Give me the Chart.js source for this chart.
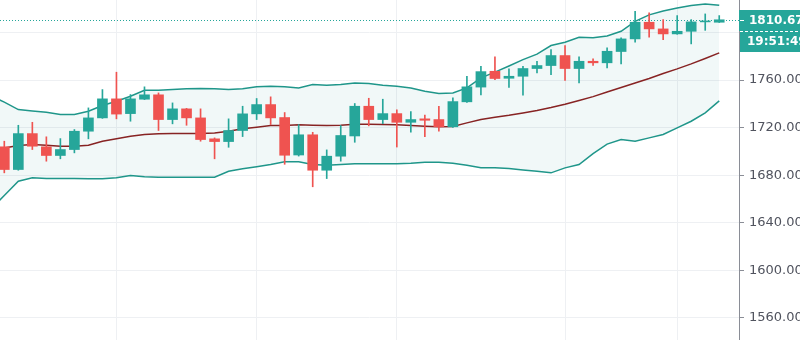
<!DOCTYPE html>
<html>
<head>
<meta charset="utf-8">
<script src="https://cdn.jsdelivr.net/npm/chart.js@4/dist/chart.umd.min.js"></script>
<style>
  html, body { margin: 0; padding: 0; background: #fff; }
  #wrap { width: 800px; height: 340px; }
</style>
</head>
<body>
<div id="wrap"><canvas id="chart" width="800" height="340"></canvas></div>
<script>
// OHLC candles, one per bar, oldest first
const opens  = [1703.9, 1684.8, 1715.0, 1703.9, 1696.6, 1701.6, 1717.0, 1728.2, 1744.2, 1731.8,
                1743.9, 1747.6, 1726.8, 1735.8, 1728.2, 1710.6, 1708.3, 1717.6, 1731.6, 1739.4,
                1728.5, 1697.0, 1714.0, 1684.2, 1696.0, 1713.0, 1738.0, 1726.8, 1731.8, 1724.5,
                1727.4, 1726.8, 1720.7, 1741.7, 1754.1, 1767.4, 1761.5, 1763.2, 1769.7, 1772.2,
                1780.6, 1769.7, 1775.8, 1774.5, 1784.0, 1794.6, 1808.6, 1803.0, 1798.8, 1801.0,
                1808.9, 1808.6];
const highs  = [1708.6, 1722.0, 1724.5, 1712.3, 1710.8, 1718.4, 1736.6, 1752.0, 1766.6, 1747.8,
                1754.3, 1749.2, 1740.8, 1736.2, 1735.8, 1711.4, 1727.4, 1738.0, 1744.5, 1745.9,
                1732.7, 1722.6, 1716.1, 1701.3, 1721.8, 1740.3, 1744.7, 1743.9, 1735.0, 1733.5,
                1730.6, 1738.0, 1745.0, 1763.2, 1771.6, 1779.5, 1769.4, 1771.6, 1775.8, 1785.6,
                1789.0, 1779.5, 1777.8, 1787.1, 1795.5, 1817.8, 1816.5, 1810.8, 1814.2, 1810.8,
                1815.6, 1814.2];
const lows   = [1682.0, 1684.2, 1701.6, 1691.8, 1693.8, 1698.8, 1710.6, 1727.8, 1727.4, 1725.4,
                1743.6, 1717.6, 1723.2, 1722.0, 1708.6, 1693.8, 1703.5, 1712.5, 1726.8, 1722.6,
                1689.2, 1696.1, 1670.3, 1677.2, 1691.8, 1707.7, 1721.5, 1723.4, 1703.7, 1716.1,
                1712.5, 1717.0, 1720.2, 1741.2, 1747.6, 1760.4, 1753.9, 1747.2, 1766.1, 1764.6,
                1759.8, 1757.6, 1772.4, 1770.3, 1773.6, 1791.8, 1796.0, 1794.0, 1798.5, 1790.4,
                1801.8, 1808.4];
const closes = [1684.8, 1715.0, 1704.4, 1696.6, 1701.6, 1717.0, 1728.2, 1744.2, 1731.4, 1744.2,
                1747.6, 1726.8, 1735.8, 1728.2, 1710.0, 1708.3, 1717.6, 1731.6, 1739.4, 1728.2,
                1696.8, 1714.0, 1684.2, 1696.0, 1713.4, 1738.0, 1726.8, 1731.8, 1724.5, 1726.8,
                1726.2, 1720.7, 1741.9, 1754.3, 1767.1, 1761.3, 1763.2, 1769.7, 1772.2, 1780.6,
                1769.7, 1775.8, 1774.5, 1784.2, 1794.6, 1808.6, 1803.0, 1798.8, 1801.0, 1808.9,
                1809.7, 1810.67];

// Bollinger bands, starting one bar before the first candle
const bandStart = -1;
const upperBand = [1747.0, 1741.5, 1735.2, 1734.0, 1732.9, 1731.0, 1731.0, 1733.8, 1738.6, 1742.2,
                   1746.4, 1751.4, 1751.4, 1752.0, 1752.6, 1752.9, 1752.6, 1752.0, 1752.6, 1754.3,
                   1754.8, 1754.3, 1753.4, 1756.2, 1755.6, 1756.2, 1757.6, 1757.1, 1755.6, 1754.8,
                   1753.4, 1750.6, 1748.7, 1749.2, 1753.4, 1761.8, 1766.7, 1771.8, 1777.2, 1781.8,
                   1789.0, 1791.8, 1796.0, 1795.5, 1797.0, 1801.0, 1809.4, 1814.8, 1818.1, 1820.6,
                   1822.6, 1824.0, 1822.9];
const basisBand = [1701.2, 1702.9, 1705.0, 1705.8, 1705.2, 1704.4, 1704.4, 1705.2, 1708.6, 1710.6,
                   1712.8, 1714.2, 1714.8, 1715.0, 1715.0, 1715.0, 1715.6, 1717.0, 1719.0, 1720.3,
                   1721.8, 1721.8, 1722.4, 1722.0, 1721.8, 1722.0, 1722.9, 1722.9, 1722.6, 1722.4,
                   1721.8, 1721.2, 1720.7, 1720.9, 1724.0, 1726.8, 1728.7, 1730.4, 1732.4, 1734.4,
                   1736.9, 1739.7, 1742.8, 1746.1, 1749.9, 1753.7, 1757.5, 1761.3, 1765.5, 1769.4,
                   1773.6, 1778.1, 1782.9];
const lowerBand = [1651.2, 1662.9, 1675.0, 1677.8, 1677.2, 1677.2, 1677.2, 1677.0, 1677.0, 1677.8,
                   1679.8, 1678.7, 1678.3, 1678.3, 1678.3, 1678.3, 1678.3, 1683.4, 1685.4, 1687.1,
                   1689.0, 1691.3, 1691.3, 1689.0, 1688.4, 1689.0, 1689.6, 1689.6, 1689.6, 1689.6,
                   1690.1, 1690.9, 1690.9, 1690.1, 1688.4, 1686.2, 1686.2, 1685.6, 1684.4, 1683.4,
                   1682.0, 1686.2, 1689.0, 1698.2, 1706.2, 1710.0, 1708.6, 1711.4, 1714.2, 1719.8,
                   1725.4, 1732.4, 1742.5];

// axis
const priceTicks = [1560, 1600, 1640, 1680, 1720, 1760, 1800];
const timeGridBars = [8, 18, 28, 40, 48];
const countdown = '19:51:49';

const UP = '#26a69a';
const DOWN = '#ef5350';
const BAND = '#1f968a';
const BASIS = '#872323';
const GRID = '#eef0f3';
const FONT = '"DejaVu Sans", sans-serif';

const lastClose = closes[closes.length - 1];
const candleColor = ctx => closes[ctx.dataIndex] >= opens[ctx.dataIndex] ? UP : DOWN;
const bandPoints = arr => arr.map((v, j) => ({x: j + bandStart, y: v}));

// last price line + price / countdown tags on the price scale
const lastPriceTag = {
  id: 'lastPriceTag',
  beforeDatasetsDraw(chart) {
    const {ctx, chartArea, scales: {y}} = chart;
    const py = Math.round(y.getPixelForValue(lastClose)) + 0.5;
    ctx.save();
    ctx.strokeStyle = UP;
    ctx.lineWidth = 1;
    ctx.setLineDash([1, 2]);
    ctx.beginPath();
    ctx.moveTo(chartArea.left, py);
    ctx.lineTo(chartArea.right, py);
    ctx.stroke();
    ctx.restore();
  },
  afterDraw(chart) {
    const {ctx, scales: {y}} = chart;
    const py = Math.round(y.getPixelForValue(lastClose));
    const left = y.left;
    const w = chart.width - left;
    ctx.save();
    ctx.fillStyle = UP;
    ctx.fillRect(left, py - 10, w, 21);
    ctx.fillRect(left + 1, py + 11, w, 21);
    // dashed divider between the two tags
    ctx.strokeStyle = '#ffffff';
    ctx.lineWidth = 1;
    ctx.setLineDash([3, 2]);
    ctx.beginPath();
    ctx.moveTo(left + 1, py + 11.5);
    ctx.lineTo(chart.width, py + 11.5);
    ctx.stroke();
    ctx.setLineDash([]);
    ctx.beginPath();
    ctx.moveTo(left + 1, py + 0.5);
    ctx.lineTo(left + 5, py + 0.5);
    ctx.stroke();
    ctx.fillStyle = '#ffffff';
    ctx.font = 'bold 12px ' + FONT;
    ctx.textBaseline = 'middle';
    ctx.textAlign = 'left';
    ctx.fillText(lastClose.toFixed(2), left + 10, py + 1);
    ctx.fillText(countdown, left + 8, py + 22);
    ctx.restore();
  }
};

new Chart(document.getElementById('chart'), {
  type: 'bar',
  data: {
    datasets: [
      {
        type: 'line', label: 'Upper', data: bandPoints(upperBand),
        borderColor: BAND, borderWidth: 1.5, pointRadius: 0, tension: 0,
        fill: 2, backgroundColor: 'rgba(25,135,135,0.06)', order: 3
      },
      {
        type: 'line', label: 'Basis', data: bandPoints(basisBand),
        borderColor: BASIS, borderWidth: 1.5, pointRadius: 0, tension: 0,
        fill: false, order: 3
      },
      {
        type: 'line', label: 'Lower', data: bandPoints(lowerBand),
        borderColor: BAND, borderWidth: 1.5, pointRadius: 0, tension: 0,
        fill: false, order: 3
      },
      {
        label: 'Wicks', data: lows.map((l, k) => ({x: k, y: [l, highs[k]]})),
        backgroundColor: candleColor, barThickness: 1, grouped: false, order: 2
      },
      {
        label: 'Bodies', data: opens.map((o, k) => ({x: k, y: [o, closes[k]]})),
        backgroundColor: candleColor, barThickness: 10, grouped: false, order: 1
      }
    ]
  },
  options: {
    responsive: false,
    animation: false,
    layout: {padding: 0},
    plugins: {
      legend: {display: false},
      tooltip: {enabled: false},
      filler: {drawTime: 'beforeDatasetsDraw'}
    },
    scales: {
      x: {
        type: 'linear',
        min: -0.307,
        max: 52.41,
        offset: false,
        grid: {color: GRID, drawTicks: false, offset: false},
        border: {display: false},
        ticks: {display: false},
        afterBuildTicks: scale => { scale.ticks = timeGridBars.map(v => ({value: v})); },
        afterFit: scale => { scale.height = 0; }
      },
      y: {
        type: 'linear',
        position: 'right',
        min: 1541.5,
        max: 1827.3,
        beginAtZero: false,
        grid: {color: GRID, tickColor: '#8a8d96', tickLength: 5},
        border: {display: true, color: '#8a8d96', width: 1},
        ticks: {
          padding: 5,
          color: '#50535e',
          font: {family: FONT, size: 13},
          callback: v => v.toFixed(2)
        },
        afterBuildTicks: scale => { scale.ticks = priceTicks.map(v => ({value: v})); },
        afterFit: scale => {
          scale.width = 61;
          scale.paddingTop = 0;
          scale.paddingBottom = 0;
        }
      }
    }
  },
  plugins: [lastPriceTag]
});
</script>
</body>
</html>
